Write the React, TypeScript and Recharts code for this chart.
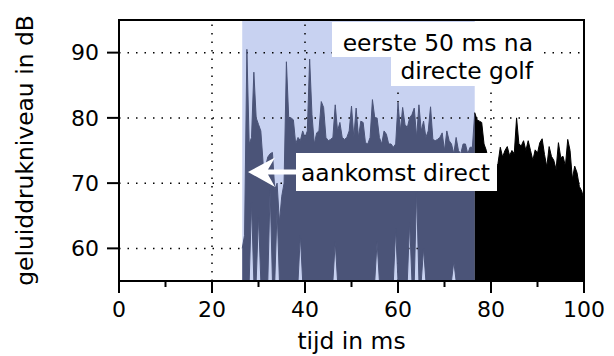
import { ComposedChart, Area, XAxis, YAxis, ReferenceArea, ReferenceLine, Label } from 'recharts'

// eerste monster en stapgrootte van het gemeten niveau
const startMs = 26.5
const stapMs = 0.5
// einde van de eerste 50 ms na de directe golf
const vensterMs = [26.5, 76.5]

// geluiddrukniveau (bovenkant) in dB, per 0,5 ms vanaf 26,5 ms
const niveauDb = [
  60, 62, 90.5, 76, 77, 87, 80, 79, 78, 73,
  72.5, 74, 74.5, 74.7, 69, 70, 64, 68, 70, 88.6,
  80, 80, 79.7, 76, 77, 76.5, 78, 77, 78, 89,
  80.5, 76, 77.7, 78, 82.5, 81.6, 77, 76.5, 76.7, 77,
  82, 78, 79.3, 77, 76.7, 77, 78, 81.8, 77, 81.5,
  77, 79.5, 79.3, 76.2, 76, 77, 82.8, 80, 80, 77,
  76, 78, 77.5, 76, 76, 75.5, 76, 82.3, 78, 81.6,
  79, 78.5, 80, 80.5, 81.5, 77, 82, 78, 79.5, 77,
  78, 81.7, 76.7, 76.5, 76.7, 77, 77.7, 75, 78, 76.5,
  76, 74.5, 77, 75, 74.5, 76, 76, 74.5, 75.5, 75.5,
  80.8,
  79.7, 79.5, 79.3, 76, 75, 73, 72, 73, 72, 73,
  75.5, 74, 75, 75.6, 74.2, 75, 74.5, 80, 76, 75.7,
  76.5, 75, 76.5, 75, 73.5, 75.1, 74.6, 76.2, 76.8, 74.4,
  72.5, 75.6, 74.1, 73.5, 72.1, 76.2, 73.9, 74.1, 72.6, 76.7,
  75, 70.6, 72.6, 71.6, 69.5, 68.8, 67.5,
]

// momenten waarop het niveau niet tot de onderkant reikt: [tijd, laagste waarde]
const dalenDb: [number, number][] = [
  [28.5, 67], [30, 65], [32.5, 69], [34, 66], [39, 62],
  [46.5, 61], [55.5, 61], [59.5, 63], [62.5, 64], [64, 69],
  [65.5, 60], [72, 58],
]

const xTicks = [0, 10, 20, 30, 40, 50, 60, 70, 80, 90, 100]
const xRaster = [20, 40, 60, 80]
const yTicks = [60, 70, 80, 90]
const yMin = 55
const yMax = 95

const data = niveauDb.map((db, i) => {
  const t = startMs + i * stapMs
  const dal = dalenDb.find(([tm]) => tm === t)
  const bereik = [dal ? dal[1] : yMin, db]
  return {
    t,
    vroeg: t <= vensterMs[1] ? bereik : null,
    laat: t >= vensterMs[1] ? bereik : null,
  }
})

function TijdTick({ x, y, payload }: any) {
  const groot = payload.value % 20 === 0
  return (
    <g>
      <line x1={x} x2={x} y1={y} y2={y + (groot ? 12 : 6)} stroke="#000" strokeWidth={2} />
      {groot && (
        <text x={x} y={y + 36} textAnchor="middle" fontSize={22} fill="#000">
          {payload.value}
        </text>
      )}
    </g>
  )
}

const raster = { stroke: '#000', strokeWidth: 1.5, strokeDasharray: '1.5 7' }

export default function App() {
  return (
    <div style={{ position: 'absolute', left: 0, top: 0, width: 614, height: 356, background: '#fff', fontFamily: '"DejaVu Sans", sans-serif' }}>
      <ComposedChart width={614} height={356} data={data} margin={{ top: 20, right: 30, left: 0, bottom: 0 }}>
        <XAxis
          type="number"
          dataKey="t"
          domain={[0, 100]}
          ticks={xTicks}
          interval={0}
          height={75}
          tickSize={0}
          tickMargin={0}
          tickLine={false}
          tick={<TijdTick />}
          axisLine={{ stroke: '#000', strokeWidth: 2 }}
        >
          <Label value="tijd in ms" position="insideBottom" offset={7} style={{ fontSize: 23.4, fill: '#000' }} />
        </XAxis>
        <YAxis
          type="number"
          domain={[yMin, yMax]}
          ticks={yTicks}
          width={119}
          tickSize={12}
          tickMargin={8}
          tick={{ fill: '#000', fontSize: 22 }}
          tickLine={{ stroke: '#000', strokeWidth: 2 }}
          axisLine={{ stroke: '#000', strokeWidth: 2 }}
        >
          <Label
            value="geluiddrukniveau in dB"
            angle={-90}
            position="insideLeft"
            offset={25}
            style={{ textAnchor: 'middle', fontSize: 23.4, fill: '#000' }}
          />
        </YAxis>
        <ReferenceArea x1={vensterMs[0]} x2={vensterMs[1]} y1={yMin} y2={yMax} fill="#c8d2f1" fillOpacity={1} stroke="none" zIndex={-150} />
        {xRaster.map((v) => (
          <ReferenceLine key={'x' + v} x={v} {...raster} zIndex={-100} />
        ))}
        {yTicks.map((v) => (
          <ReferenceLine key={'y' + v} y={v} {...raster} zIndex={-100} />
        ))}
        <Area
          dataKey="vroeg"
          type="linear"
          fill="#4b5478"
          fillOpacity={1}
          stroke="#4b5478"
          strokeWidth={1}
          isAnimationActive={false}
          activeDot={false}
          dot={false}
        />
        <Area
          dataKey="laat"
          type="linear"
          fill="#000"
          fillOpacity={1}
          stroke="#000"
          strokeWidth={1}
          isAnimationActive={false}
          activeDot={false}
          dot={false}
        />
      </ComposedChart>
      <svg width={614} height={356} style={{ position: 'absolute', left: 0, top: 0, pointerEvents: 'none' }}>
        <rect x={119} y={20} width={465} height={261} fill="none" stroke="#000" strokeWidth={2} />
        <rect x={332} y={22} width={209} height={35} fill="#fff" />
        <rect x={391} y={57} width={150} height={29} fill="#fff" />
        <text x={533} y={50.5} textAnchor="end" fontSize={23.4} fill="#000">eerste 50 ms na</text>
        <text x={533} y={79} textAnchor="end" fontSize={23.4} fill="#000">directe golf</text>
        <rect x={296} y={153} width={201} height={38} fill="#fff" />
        <text x={301} y={180.5} fontSize={23.4} fill="#000">aankomst direct</text>
        <polygon points="248,172 275,157.5 268,169.5 297,169.5 297,174.5 268,174.5 275,187" fill="#fff" />
      </svg>
    </div>
  )
}
